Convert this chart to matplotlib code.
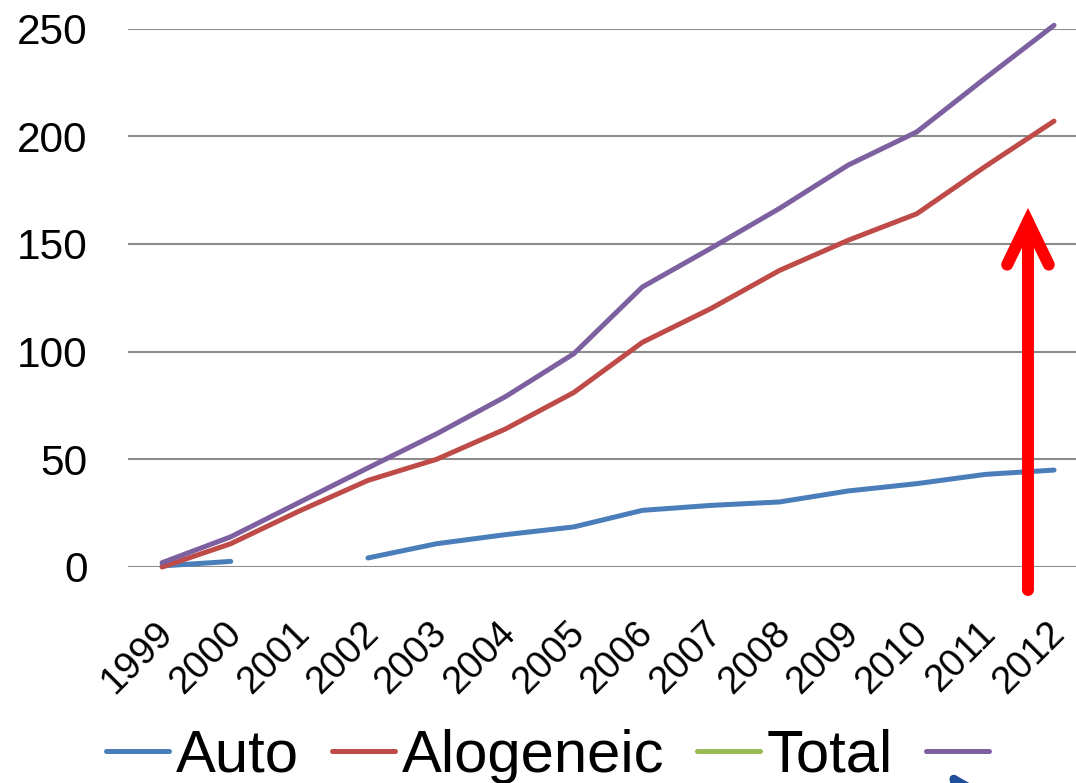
import numpy as np
import matplotlib
matplotlib.use("Agg")
import matplotlib.pyplot as plt
import matplotlib.transforms as mtransforms
from matplotlib.patches import FancyArrowPatch, ArrowStyle

plt.rcParams['font.family'] = ['Liberation Sans', 'DejaVu Sans']

years = [1999, 2000, 2001, 2002, 2003, 2004, 2005, 2006, 2007, 2008, 2009, 2010, 2011, 2012]
auto = [0.5, 2.6, np.nan, 4.2, 10.8, 15, 18.6, 26.3, 28.6, 30.2, 35.3, 38.7, 43, 45]
alogeneic = [0, 10.8, 26, 40.2, 50, 64, 81, 104.3, 120, 137.7, 151.7, 164, 186, 207]
total = [np.nan] * 14
unnamed = [2, 14, 30, 46, 61.8, 79, 99, 130, 148, 166.5, 186.6, 202, 227, 251.5]
yticks = [0, 50, 100, 150, 200, 250]
series_labels = ["Auto", "Alogeneic", "Total", ""]
colors = ["#4A7EBB", "#BE4B48", "#98B954", "#7D60A0"]

W, H = 1076, 783
fig = plt.figure(figsize=(W / 100, H / 100), dpi=100)
ax = fig.add_axes([128 / W, 1 - 567 / H, 1 - 128 / W, (567 - 28.5) / H])

handles = []
for vals, c in zip([auto, alogeneic, total, unnamed], colors):
    ln, = ax.plot(years, vals, color=c, lw=3.6, solid_capstyle='round',
                  solid_joinstyle='round', clip_on=False, zorder=3)
    handles.append(ln)

ax.set_xlim(1998.503, 2012.32)
ax.set_ylim(0, 250)
ax.set_yticks(yticks)
ax.set_xticks(years)
ax.set_xticklabels([str(y) for y in years], rotation=45, ha='right', va='center',
                   rotation_mode='anchor', fontsize=27.5)
ax.tick_params(axis='y', length=0, pad=29, labelsize=30.5)
ax.tick_params(axis='x', length=0, pad=44)
shift = mtransforms.ScaledTranslation(5 / 100, 0, fig.dpi_scale_trans)
for lbl in ax.get_xticklabels():
    lbl.set_transform(lbl.get_transform() + shift)
for s in ax.spines.values():
    s.set_visible(False)
ax.grid(axis='y', color='#8C8C8C', lw=1.5)
ax.set_axisbelow(True)

fig.legend(handles, series_labels, loc='center', bbox_to_anchor=(551 / W, 1 - 756 / H),
           ncol=4, frameon=False, fontsize=43, handlelength=1.05, handletextpad=0.12,
           columnspacing=0.55)

# red arrow
red = FancyArrowPatch((2011.62, -12), (2011.62, 168),
                      arrowstyle=ArrowStyle("->", head_length=31, head_width=15),
                      mutation_scale=1, color='#FF0000', lw=8.6,
                      capstyle='round', joinstyle='miter', clip_on=False, zorder=5)
ax.add_patch(red)

# partial blue arrow at bottom right
ax.annotate('', xy=(947 / W, 1 - 769 / H), xycoords='figure fraction',
            xytext=(995 / W, 1 - 840 / H), textcoords='figure fraction',
            arrowprops=dict(arrowstyle='-|>,head_length=1.6,head_width=0.8',
                            color='#1F4E9A', lw=6, mutation_scale=20),
            annotation_clip=False)

fig.savefig("out.png", dpi=100)
